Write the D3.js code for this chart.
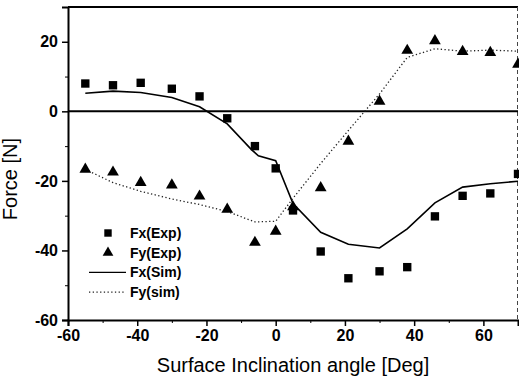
<!DOCTYPE html>
<html>
<head>
<meta charset="utf-8">
<script src="https://cdn.jsdelivr.net/npm/d3@7"></script>
<style>
  body { margin: 0; background: #fff; }
  svg { display: block; font-family: "Liberation Sans", Arial, sans-serif; }
  .tick text { font-size: 16px; font-weight: bold; fill: #000; }
</style>
</head>
<body>
<div id="chart"></div>
<script>
// Datos
const angles = [-55, -47, -39, -30, -22, -14, -6, 0, 5, 13, 21, 30, 38, 46, 54, 62, 70];
const fxExp = [8, 7.5, 8.2, 6.5, 4.3, -2, -10, -16.4, -28.5, -40.3, -48, -46, -44.8, -30.2, -24.3, -23.6, -18];
const fyExp = [-16.7, -17.5, -20.5, -21.2, -24.4, -28.2, -37.7, -34.5, -27.5, -22, -8.6, 2.9, 17.5, 20.3, 17.2, 16.9, 13.5];
const fxSimX = [-55, -47, -39, -30, -22, -14, -7, -5, 0, 5, 13, 21, 30, 38, 46, 54, 62, 70];
const fxSim = [5.2, 5.8, 5.4, 4.0, 1.3, -3.6, -11, -12.8, -14.2, -26.5, -34.8, -38.2, -39.3, -33.8, -26.3, -21.8, -20.8, -20.1];
const fySim = [-16.7, -20.5, -23.0, -25.2, -26.8, -28.8, -31.8, -31.6, -25, -15, -5.5, 5, 15.5, 18, 17.3, 17.6, 17.3];
const xTicks = [-60, -40, -20, 0, 20, 40, 60];
const yTicks = [-60, -40, -20, 0, 20];
const legendLabels = ['Fx(Exp)', 'Fy(Exp)', 'Fx(Sim)', 'Fy(sim)'];

const W = 519, H = 381;
let margin = {top: 7, right: 1, bottom: 61, left: 68};
let width = W - margin.left - margin.right,
    height = H - margin.top - margin.bottom;

let svg = d3.select('#chart').append('svg')
    .attr('width', W).attr('height', H)
  .append('g')
    .attr('transform', 'translate(' + margin.left + ',' + margin.top + ')');

let x = d3.scaleLinear().domain([-60, 70]).range([0, width]);
let y = d3.scaleLinear().domain([-60, 30]).range([height, 0]);
let fmt = d => String(d);

// marco superior y derecho
svg.append('line').attr('x1', 0).attr('x2', width).attr('y1', 0).attr('y2', 0)
    .attr('stroke', '#000').attr('stroke-width', 2);
svg.append('line').attr('x1', width - 0.5).attr('x2', width - 0.5).attr('y1', 0).attr('y2', height)
    .attr('stroke', '#444').attr('stroke-width', 1).attr('stroke-dasharray', '4,3');

// línea de cero
svg.append('line').attr('x1', 0).attr('x2', width).attr('y1', y(0)).attr('y2', y(0))
    .attr('stroke', '#000').attr('stroke-width', 2);

// ejes: menores y mayores
svg.append('g').attr('transform', 'translate(0,' + height + ')')
    .call(d3.axisBottom(x).tickValues(d3.range(-50, 71, 20)).tickSize(3).tickFormat(''))
    .call(g => g.select('.domain').remove());
svg.append('g').attr('transform', 'translate(0,' + height + ')')
    .call(d3.axisBottom(x).tickValues(xTicks).tickSize(6).tickPadding(4).tickFormat(fmt))
    .call(g => g.select('.domain').attr('stroke-width', 2))
    .call(g => g.selectAll('.tick line').attr('stroke-width', 1.5));

svg.append('g')
    .call(d3.axisLeft(y).tickValues(d3.range(-50, 31, 20)).tickSize(3).tickFormat(''))
    .call(g => g.select('.domain').remove());
svg.append('g')
    .call(d3.axisLeft(y).tickValues(yTicks).tickSize(6).tickPadding(4).tickFormat(fmt))
    .call(g => g.select('.domain').attr('stroke-width', 2))
    .call(g => g.selectAll('.tick line').attr('stroke-width', 1.5));

// títulos de ejes
svg.append('text')
    .attr('x', 225).attr('y', 365)
    .attr('text-anchor', 'middle')
    .style('font-size', '20px')
    .text('Surface Inclination angle [Deg]');
svg.append('text')
    .attr('transform', 'translate(-51,172) rotate(-90)')
    .attr('text-anchor', 'middle')
    .style('font-size', '20px')
    .text('Force [N]');

// curvas simuladas
let line = d3.line().x(d => x(d[0])).y(d => y(d[1]));
svg.append('path')
    .datum(fxSimX.map((a, i) => [a, fxSim[i]]))
    .attr('d', line).attr('fill', 'none')
    .attr('stroke', '#000').attr('stroke-width', 1.6);
svg.append('path')
    .datum(angles.map((a, i) => [a, fySim[i]]))
    .attr('d', line).attr('fill', 'none')
    .attr('stroke', '#222').attr('stroke-width', 1.3)
    .attr('stroke-dasharray', '1.3,2.4');

// puntos experimentales
let sq = d3.symbol().type(d3.symbolSquare).size(70);
let tri = d3.symbol().type(d3.symbolTriangle).size(60);
svg.append('g').selectAll('path')
    .data(angles.map((a, i) => [a, fxExp[i]]))
    .enter().append('path')
    .attr('d', sq)
    .attr('transform', d => 'translate(' + x(d[0]) + ',' + y(d[1]) + ')')
    .attr('fill', '#000');
svg.append('g').selectAll('path')
    .data(angles.map((a, i) => [a, fyExp[i]]))
    .enter().append('path')
    .attr('d', tri)
    .attr('transform', d => 'translate(' + x(d[0]) + ',' + y(d[1]) + ')')
    .attr('fill', '#000');

// leyenda
let legend = svg.append('g').attr('transform', 'translate(0,226)');
legendLabels.forEach(function(label, i) {
    let g = legend.append('g').attr('transform', 'translate(0,' + (i * 19.7) + ')');
    if (i == 0) g.append('path').attr('d', d3.symbol().type(d3.symbolSquare).size(55)).attr('transform', 'translate(40,0)');
    if (i == 1) g.append('path').attr('d', d3.symbol().type(d3.symbolTriangle).size(50)).attr('transform', 'translate(40,0)');
    if (i == 2) g.append('line').attr('x1', 21).attr('x2', 58).attr('stroke', '#000').attr('stroke-width', 1.3);
    if (i == 3) g.append('line').attr('x1', 21).attr('x2', 58).attr('stroke', '#222').attr('stroke-width', 1.2).attr('stroke-dasharray', '1.3,2.4');
    g.append('text').attr('x', 62).attr('y', 5)
        .style('font-size', '14px').style('font-weight', 'bold')
        .text(label);
});
</script>
</body>
</html>
